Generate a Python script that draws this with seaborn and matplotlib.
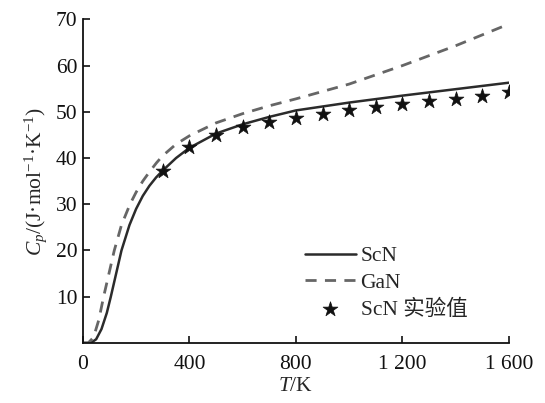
import matplotlib
matplotlib.use("Agg")
import matplotlib.pyplot as plt
import seaborn as sns
import pandas as pd

# ScN calculated curve
scn_T = [0, 30, 50, 70, 90, 105, 125, 145, 175, 200, 225, 250, 275, 300, 350, 400,
         500, 600, 700, 800, 1000, 1200, 1400, 1600]
scn_cp = [0, 0, 0.8, 3.0, 6.5, 10.0, 15.0, 20.0, 25.5, 29.0, 31.8, 34.0, 35.8, 37.3,
          40.0, 42.2, 45.3, 47.3, 48.9, 50.3, 52.0, 53.5, 54.9, 56.3]
# GaN calculated curve
gan_T = [0, 20, 40, 60, 78, 98, 118, 145, 177, 200, 225, 250, 277, 300, 350, 400,
         500, 600, 700, 800, 1000, 1200, 1400, 1600]
gan_cp = [0, 0, 1.2, 5.0, 10.0, 15.0, 20.0, 25.5, 30.0, 32.6, 35.0, 37.0, 39.0, 40.5,
          43.0, 44.8, 47.6, 49.6, 51.3, 52.8, 56.0, 60.0, 64.3, 69.0]
# ScN experimental
exp_T = [300, 400, 500, 600, 700, 800, 900, 1000, 1100, 1200, 1300, 1400, 1500, 1600]
exp_cp = [37.2, 42.3, 45.0, 46.7, 47.8, 48.7, 49.5, 50.3, 51.0, 51.7, 52.3, 52.8,
          53.4, 54.2]

x_ticks = [0, 400, 800, 1200, 1600]
x_ticklabels = ["0", "400", "800", "1 200", "1 600"]
y_ticks = [10, 20, 30, 40, 50, 60, 70]

sns.set_theme(style="ticks")
plt.rcParams["font.family"] = ["Liberation Serif", "Noto Sans CJK SC", "DejaVu Sans"]
plt.rcParams["mathtext.fontset"] = "custom"
plt.rcParams["mathtext.rm"] = "Liberation Serif"
plt.rcParams["mathtext.it"] = "Liberation Serif:italic"

FS = 15.5

fig = plt.figure(figsize=(5.45, 4.03), dpi=100)
ax = fig.add_axes([0.152, 0.149, 0.782, 0.803])

df_scn = pd.DataFrame({"T": scn_T, "Cp": scn_cp})
df_gan = pd.DataFrame({"T": gan_T, "Cp": gan_cp})
df_exp = pd.DataFrame({"T": exp_T, "Cp": exp_cp})

sns.lineplot(data=df_scn, x="T", y="Cp", ax=ax, color="#2b2b2b", lw=1.8, label="ScN")
sns.lineplot(data=df_gan, x="T", y="Cp", ax=ax, color="#666666", lw=2.0,
             label="GaN").lines[-1].set_dashes((4, 3))
sns.scatterplot(data=df_exp, x="T", y="Cp", ax=ax, marker="*", s=125, color="#111111",
                edgecolor="#111111", linewidth=0.5, label="ScN 实验值", zorder=5)

ax.set_xlim(0, 1600)
ax.set_ylim(0, 70)
ax.set_xticks(x_ticks)
ax.set_xticklabels(x_ticklabels)
ax.set_yticks(y_ticks)
ax.tick_params(direction="in", length=5, width=1.2, labelsize=FS, colors="#111111")
ax.tick_params(axis="x", pad=9)
ax.tick_params(axis="y", pad=4)
for s in ["top", "right"]:
    ax.spines[s].set_visible(False)
for s in ["left", "bottom"]:
    ax.spines[s].set_linewidth(1.3)
    ax.spines[s].set_color("#111111")

ax.set_xlabel("$T$/K", fontsize=FS, labelpad=2)
ax.set_ylabel("$C_p$/(J·mol$^{-1}$·K$^{-1}$)", fontsize=FS, labelpad=5)

leg = ax.legend(loc="upper left", bbox_to_anchor=(0.485, 0.345), frameon=False,
                fontsize=FS, handlelength=2.4, handletextpad=0.2, labelspacing=0.3,
                borderpad=0.2)
leg.legend_handles[1].set_dashes((4, 3))

fig.savefig("out.png", dpi=100)
